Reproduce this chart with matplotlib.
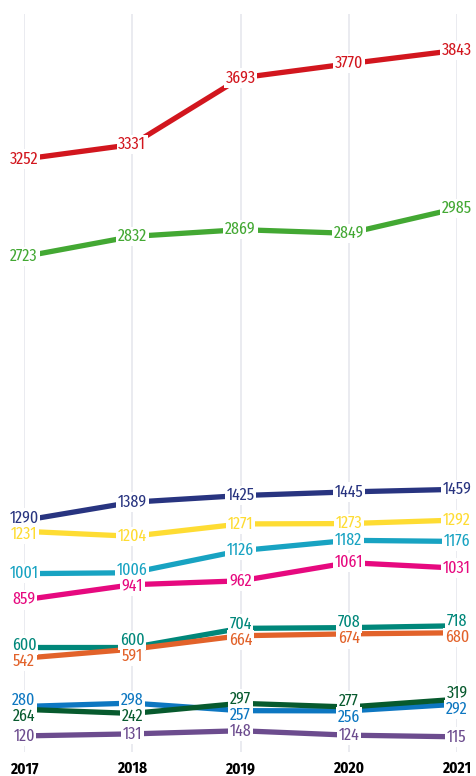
import matplotlib.pyplot as plt

years = [2017, 2018, 2019, 2020, 2021]

series = {
    "red": [3252, 3331, 3693, 3770, 3843],
    "green": [2723, 2832, 2869, 2849, 2985],
    "navy": [1290, 1389, 1425, 1445, 1459],
    "yellow": [1231, 1204, 1271, 1273, 1292],
    "cyan": [1001, 1006, 1126, 1182, 1176],
    "magenta": [859, 941, 962, 1061, 1031],
    "teal": [600, 600, 704, 708, 718],
    "orange": [542, 591, 664, 674, 680],
    "blue": [280, 298, 257, 256, 292],
    "darkgreen": [264, 242, 297, 277, 319],
    "purple": [120, 131, 148, 124, 115],
}

colors = {
    "red": "#d2161e",
    "green": "#43a833",
    "navy": "#283480",
    "yellow": "#fedc33",
    "cyan": "#18a3c2",
    "magenta": "#e6097f",
    "teal": "#00877a",
    "orange": "#e2622a",
    "blue": "#0d77c1",
    "darkgreen": "#075a2e",
    "purple": "#6c4c8e",
}

W, H = 477, 776
fig = plt.figure(figsize=(W / 100, H / 100), dpi=100)
ax_h_px = 744
ax = fig.add_axes([24 / W, 18 / H, 433 / W, ax_h_px / H])
ymax = 4040
ax.set_xlim(2017, 2021)
ax.set_ylim(0, ymax)

font = ["Fira Sans Extra Condensed", "PT Sans Narrow", "DejaVu Sans"]
font_bold = ["Fira Sans Condensed", "PT Sans Narrow", "DejaVu Sans"]

# gitter
ax.vlines(years, 30, ymax, color="#e6e8ed", lw=1.2, zorder=0)

for name, vals in series.items():
    ax.plot(years, vals, color=colors[name], lw=3.8, solid_capstyle="butt", zorder=2)

# einfache Kollisionsvermeidung für die Beschriftungen
sep = 16 * ymax / ax_h_px
for i, yr in enumerate(years):
    items = sorted(((series[n][i], n) for n in series), reverse=True)
    pos = [v for v, _ in items]
    for _ in range(50):
        for k in range(len(pos) - 1):
            d = pos[k] - pos[k + 1]
            if d < sep:
                shift = (sep - d) / 2
                pos[k] += shift
                pos[k + 1] -= shift
    for (v, n), p in zip(items, pos):
        ax.text(yr, p, str(v), color=colors[n], fontsize=12.5, family=font,
                fontweight="normal", ha="center", va="center", zorder=5,
                bbox=dict(boxstyle="square,pad=0.1", fc="white", ec="none"))

ax.set_xticks(years)
ax.set_xticklabels([str(y) for y in years], fontsize=11, fontweight="bold",
                   family=font_bold)
ax.tick_params(axis="x", length=0, pad=2)
ax.set_yticks([])
for s in ax.spines.values():
    s.set_visible(False)

fig.savefig("out.png", dpi=100)
